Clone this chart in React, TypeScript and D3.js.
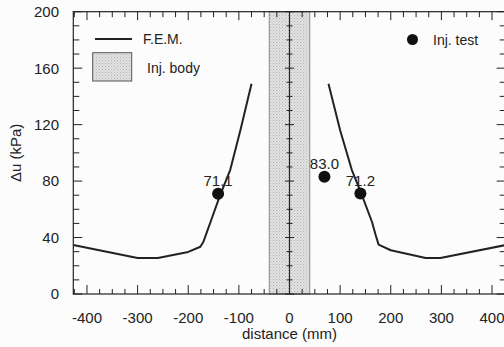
import React from "react";
import * as d3 from "d3";

const femLeftX = [-427, -300, -260, -200, -176, -170, -163, -156, -137, -117, -97, -75];
const femLeftY = [34.7, 25.5, 25.5, 29.8, 33.5, 37, 44, 51, 70, 88, 116, 149];
const femRightX = [77, 100, 123, 143, 163, 170, 176, 200, 269, 298, 427];
const femRightY = [149, 116, 88, 70, 51, 42, 35, 31, 25.5, 25.5, 34.7];
const testX = [-141, 69, 140];
const testY = [71.1, 83.0, 71.2];
const testLabels = ["71.1", "83.0", "71.2"];
const xTickLabels = [-400, -300, -200, -100, 0, 100, 200, 300, 400];
const yTickLabels = [0, 40, 80, 120, 160, 200];
const bodyRange = [-40, 40];

const W = 504, H = 347;
const L = 73.3, R = 505.7, T = 11.7, B = 294;
const font = "Liberation Sans, Arial, sans-serif";

export default function App() {
  const x = d3.scaleLinear().domain([-427, 427]).range([L, R]);
  const y = d3.scaleLinear().domain([0, 200]).range([B, T]);
  const line = d3.line<[number, number]>().x(d => x(d[0])).y(d => y(d[1]));
  const left = femLeftX.map((v, i) => [v, femLeftY[i]] as [number, number]);
  const right = femRightX.map((v, i) => [v, femRightY[i]] as [number, number]);
  const yMinor = d3.range(0, 201, 10);
  const xMinor = d3.range(-425, 426, 25);
  const ink = "#222";

  return (
    <svg width={W} height={H} style={{ position: "absolute", left: 0, top: 0 }} fontFamily={font}>
      <defs>
        <pattern id="stip" width="3" height="3" patternUnits="userSpaceOnUse">
          <rect width="3" height="3" fill="#e2e2e2" />
          <rect x="0" y="0" width="1" height="1" fill="#b4b4b4" />
          <rect x="1.5" y="1.5" width="1" height="1" fill="#c4c4c4" />
        </pattern>
      </defs>
      <rect width={W} height={H} fill="#fcfcfc" />
      <rect x={x(bodyRange[0])} y={T} width={x(bodyRange[1]) - x(bodyRange[0])} height={B - T}
        fill="url(#stip)" stroke="#8a8a8a" strokeWidth={1} />
      <rect x={L} y={T} width={R - L} height={B - T} fill="none" stroke={ink} strokeWidth={1.2} />
      <line x1={x(0)} x2={x(0)} y1={T} y2={B} stroke={ink} strokeWidth={1.2} />
      {yMinor.map(v => {
        const major = v % 40 === 0;
        const yy = y(v);
        return (
          <g key={"yt" + v} stroke={ink} strokeWidth={1}>
            <line x1={L} x2={L + (major ? 9 : 6)} y1={yy} y2={yy} />
            <line x1={R} x2={R - (major ? 9 : 6)} y1={yy} y2={yy} />
            <line x1={x(0) - (major ? 4.5 : 3)} x2={x(0) + (major ? 4.5 : 3)} y1={yy} y2={yy} />
          </g>
        );
      })}
      {xMinor.map(v => {
        const major = v % 100 === 0;
        const xx = x(v);
        return (
          <g key={"xt" + v} stroke={ink} strokeWidth={1}>
            <line x1={xx} x2={xx} y1={B} y2={B - (major ? 9 : 5)} />
            <line x1={xx} x2={xx} y1={T} y2={T + (major ? 8.5 : 5.5)} />
          </g>
        );
      })}
      {yTickLabels.map(v => (
        <text key={"yl" + v} x={59} y={y(v) + 5.4} textAnchor="end" fontSize={15} fill={ink}>{v}</text>
      ))}
      {xTickLabels.map(v => (
        <text key={"xl" + v} x={x(v)} y={323} textAnchor="middle" fontSize={15} fill={ink}>{v}</text>
      ))}
      <text x={x(0)} y={339} textAnchor="middle" fontSize={15} fill={ink}>distance (mm)</text>
      <text transform={`translate(20.5,${(T + B) / 2}) rotate(-90)`} textAnchor="middle" fontSize={15} fill={ink}>Δu (kPa)</text>
      <path d={line(left) || ""} fill="none" stroke={ink} strokeWidth={2} strokeLinejoin="round" />
      <path d={line(right) || ""} fill="none" stroke={ink} strokeWidth={2} strokeLinejoin="round" />
      {testX.map((v, i) => (
        <g key={"t" + i}>
          <circle cx={x(v)} cy={y(testY[i])} r={6} fill="#111" />
          <text x={x(v)} y={y(testY[i]) - 8} textAnchor="middle" fontSize={15} fill={ink}>{testLabels[i]}</text>
        </g>
      ))}
      <line x1={95} x2={132} y1={39} y2={39} stroke={ink} strokeWidth={2} />
      <text x={143} y={44} fontSize={14} fill={ink}>F.E.M.</text>
      <rect x={92.7} y={52.7} width={39} height={28.3} fill="url(#stip)" stroke="#555" strokeWidth={1} />
      <text x={147} y={73} fontSize={14} fill={ink}>Inj. body</text>
      <circle cx={412.5} cy={39.5} r={5.5} fill="#111" />
      <text x={433} y={44.5} fontSize={14} fill={ink}>Inj. test</text>
    </svg>
  );
}
